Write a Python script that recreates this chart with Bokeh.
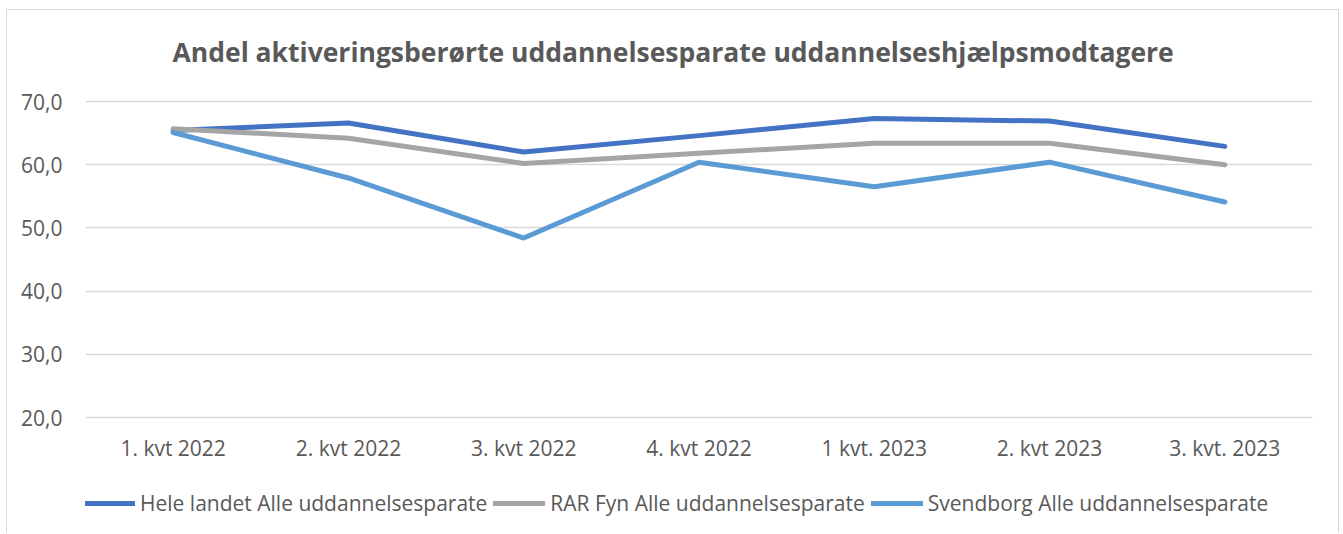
from bokeh.plotting import figure
from bokeh.models import FixedTicker, Legend, LegendItem, ColumnDataSource, Label
from bokeh.embed import file_html
from bokeh.resources import INLINE

title = "Andel aktiveringsberørte uddannelsesparate uddannelseshjælpsmodtagere"
categories = ["1. kvt 2022", "2. kvt 2022", "3. kvt 2022", "4. kvt 2022",
              "1 kvt. 2023", "2. kvt 2023", "3. kvt. 2023"]
hele_landet = [65.4, 66.6, 62.0, 64.6, 67.3, 66.9, 62.9]
rar_fyn = [65.7, 64.2, 60.2, 61.8, 63.4, 63.4, 60.0]
svendborg = [65.1, 57.9, 48.4, 60.4, 56.5, 60.4, 54.1]
series_names = ["Hele landet Alle uddannelsesparate",
                "RAR Fyn Alle uddannelsesparate",
                "Svendborg Alle uddannelsesparate"]
y_ticks = [20, 30, 40, 50, 60, 70]
y_tick_labels = ["20,0", "30,0", "40,0", "50,0", "60,0", "70,0"]

colors = ["#4472C4", "#A5A5A5", "#5B9BD5"]
FONT = "Open Sans"
TXT = "#595959"

W, H = 1333, 524
FW = 1227
BL = 78
TOP_PX = 91        # pixels above the 70 line
AXIS_PX = 316      # pixel span of the 20..70 value band
y_lo, y_hi = y_ticks[0], y_ticks[-1]
upp = (y_hi - y_lo) / AXIS_PX
y_end = y_hi + TOP_PX * upp
y_start = y_lo - (H - TOP_PX - AXIS_PX) * upp

p = figure(x_range=categories, y_range=(y_start, y_end), width=W, height=H,
           output_backend="svg", toolbar_location=None,
           min_border_left=BL, min_border_right=W - BL - FW,
           min_border_top=0, min_border_bottom=0)
p.x_range.range_padding = 0
p.styles = {"margin-left": "6px", "margin-top": "9px",
            "border-left": "1px solid #D9D9D9",
            "border-top": "1px solid #D9D9D9",
            "border-right": "1px solid #D9D9D9"}

p.add_layout(Label(x=87, y=H - 41, x_units="screen", y_units="screen",
                   text=title, text_align="left", text_baseline="middle",
                   text_font=FONT, text_font_size="26.5px",
                   text_font_style="bold", text_color=TXT))

p.outline_line_color = None
p.xgrid.grid_line_color = None
p.ygrid.grid_line_color = "#D9D9D9"
p.ygrid.grid_line_width = 1.5
p.yaxis.ticker = FixedTicker(ticks=y_ticks)
p.yaxis.major_label_overrides = {t: l for t, l in zip(y_ticks, y_tick_labels)}
p.xaxis.fixed_location = y_lo

for ax in (p.xaxis[0], p.yaxis[0]):
    ax.axis_line_color = None
    ax.major_tick_line_color = None
    ax.minor_tick_line_color = None
    ax.major_tick_in = 0
    ax.major_tick_out = 0
    ax.major_label_text_font = FONT
    ax.major_label_text_font_size = "21px"
    ax.major_label_text_color = TXT
p.yaxis.major_label_standoff = 23
p.xaxis.major_label_standoff = 16

items = []
for name, vals, c in zip(series_names, [hele_landet, rar_fyn, svendborg], colors):
    src = ColumnDataSource(dict(x=categories, y=vals))
    r = p.line("x", "y", source=src, line_color=c, line_width=5,
               line_cap="round", line_join="round")
    items.append(LegendItem(label=name, renderers=[r]))

legend = Legend(items=items, orientation="horizontal", location=(-2, 17),
                border_line_color=None, background_fill_alpha=0,
                label_text_font=FONT, label_text_font_size="21px",
                label_text_color=TXT, glyph_width=52, glyph_height=26,
                label_standoff=5, spacing=6, margin=0, padding=0,
                label_height=26)
p.add_layout(legend, "center")

open("out.html", "w").write(file_html(p, INLINE))
